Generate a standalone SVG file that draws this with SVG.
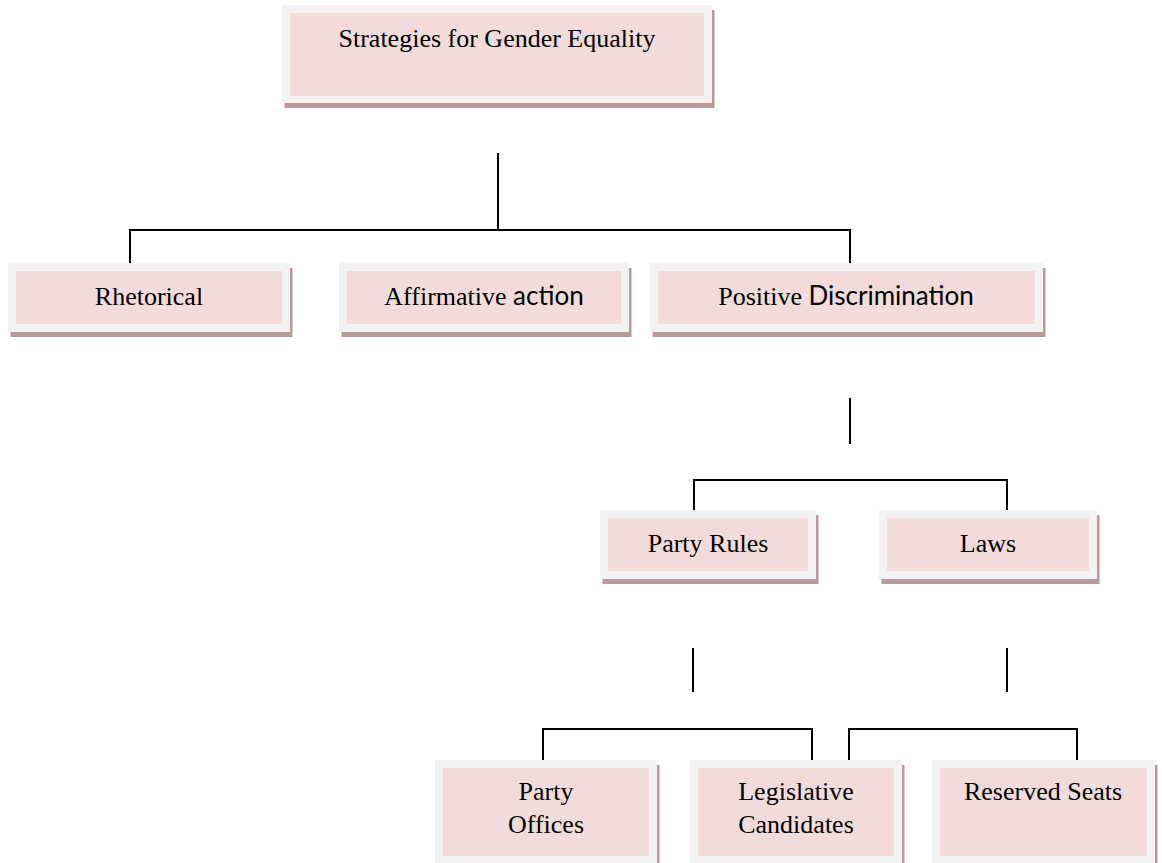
<svg xmlns="http://www.w3.org/2000/svg" width="1162" height="863" viewBox="0 0 1162 863">
<style>
.sh{fill:#b99a9a}
.fr{fill:#f2f2f2}
.in{fill:#f2dcdb}
.t{font-family:"Liberation Serif","Times New Roman",serif;font-size:26px;fill:#000;text-anchor:middle}
.s{font-family:Lato,"Liberation Sans",sans-serif}
.c{stroke:#000;stroke-width:2;fill:none}
</style>
<rect width="1162" height="863" fill="#fff"/>
<g id="connectors">
<path class="c" d="M498 153V230M130 263V230H850V267"/>
<path class="c" d="M850 398V444M694 514V480H1007V514"/>
<path class="c" d="M693 648V692M1007 648V692"/>
<path class="c" d="M543 763V729H812V763M849 763V729H1077V763"/>
</g>
<g id="n-strategies">
<rect class="sh" x="284.5" y="10" width="430" height="98"/>
<rect class="fr" x="282" y="5" width="430" height="98"/>
<rect class="in" x="290" y="13" width="414" height="83"/>
<text class="t" x="497" y="47">Strategies for Gender Equality</text>
</g>
<g id="n-rhetorical">
<rect class="sh" x="10.5" y="268" width="282" height="69"/>
<rect class="fr" x="8" y="263" width="282" height="69"/>
<rect class="in" x="16" y="271" width="266" height="53"/>
<text class="t" x="149" y="305">Rhetorical</text>
</g>
<g id="n-affirmative">
<rect class="sh" x="341.5" y="268" width="290" height="69"/>
<rect class="fr" x="339" y="263" width="290" height="69"/>
<rect class="in" x="347" y="271" width="274" height="53"/>
<text class="t" x="484" y="305">Affirmative <tspan class="s">action</tspan></text>
</g>
<g id="n-positive">
<rect class="sh" x="652.5" y="268" width="393" height="69"/>
<rect class="fr" x="650" y="263" width="393" height="69"/>
<rect class="in" x="658" y="271" width="377" height="53"/>
<text class="t" x="846" y="305">Positive <tspan class="s">Discrimination</tspan></text>
</g>
<g id="n-partyrules">
<rect class="sh" x="602.5" y="515" width="216" height="69"/>
<rect class="fr" x="600" y="510" width="216" height="69"/>
<rect class="in" x="608" y="518" width="200" height="53"/>
<text class="t" x="708" y="552">Party Rules</text>
</g>
<g id="n-laws">
<rect class="sh" x="881.5" y="515" width="218" height="69"/>
<rect class="fr" x="879" y="510" width="218" height="69"/>
<rect class="in" x="887" y="518" width="202" height="53"/>
<text class="t" x="988" y="552">Laws</text>
</g>
<g id="n-partyoffices">
<rect class="sh" x="437.5" y="765" width="222" height="110"/>
<rect class="fr" x="435" y="760" width="222" height="110"/>
<rect class="in" x="443" y="768" width="206" height="88"/>
<text class="t" x="546" y="800">Party</text>
<text class="t" x="546" y="833">Offices</text>
</g>
<g id="n-legislative">
<rect class="sh" x="692.5" y="765" width="212" height="110"/>
<rect class="fr" x="690" y="760" width="212" height="110"/>
<rect class="in" x="698" y="768" width="196" height="88"/>
<text class="t" x="796" y="800">Legislative</text>
<text class="t" x="796" y="833">Candidates</text>
</g>
<g id="n-reserved">
<rect class="sh" x="934.5" y="765" width="223" height="110"/>
<rect class="fr" x="932" y="760" width="223" height="110"/>
<rect class="in" x="940" y="768" width="207" height="88"/>
<text class="t" x="1043" y="800">Reserved Seats</text>
</g>
</svg>
